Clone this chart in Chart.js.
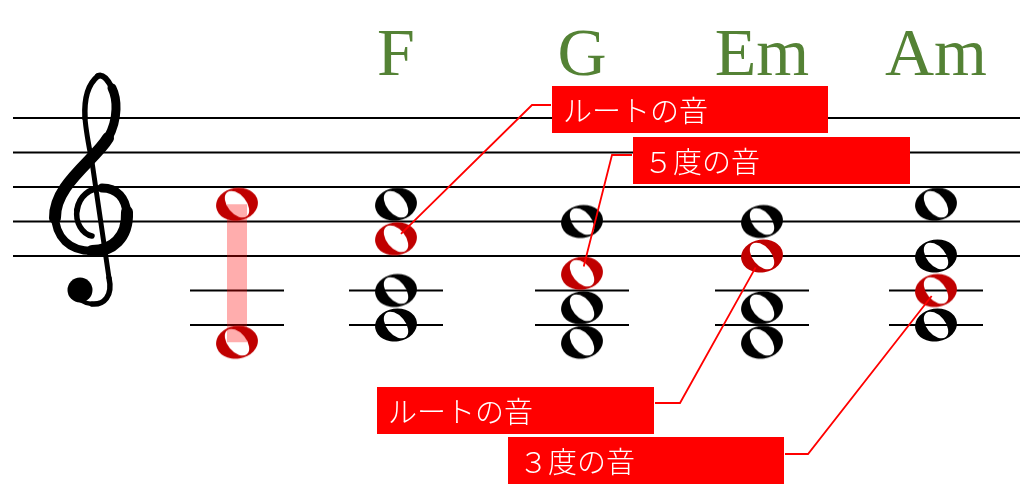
<!DOCTYPE html>
<html><head><meta charset="utf-8">
<script src="https://cdn.jsdelivr.net/npm/chart.js@4"></script>
<style>html,body{margin:0;padding:0;background:#fff;overflow:hidden}#wrap{position:relative;width:1024px;height:489px}</style>
</head><body><div id="wrap"><canvas id="c"></canvas></div>
<script>
// ---- data ----
const chordNames = ['', 'F', 'G', 'Em', 'Am'];
const columnX = [237, 396, 582, 762, 936];
// staff steps: 0 = E4 (bottom line), 1 step = one diatonic degree
const blackNotes = [[], [3, -2, -4], [2, -3, -5], [2, -3, -5], [3, 0, -4]];
const redNotes = [[3, -5], [1], [-1], [0], [-2]];
const staffLineSteps = [0, 2, 4, 6, 8];
const ledgerSteps = [-2, -4];
const rangeBarSteps = [3, -5];
const calloutLabels = ['ルートの音', '５度の音', 'ルートの音', '３度の音'];
const calloutTargets = [[1, 1], [2, -1], [3, 0], [4, -2]]; // [column, step]

// ---- layout / style ----
const PX_PER_STEP = 17.25, BASE_Y = 256, H = 489;
const STAFF_X0 = 13, STAFF_X1 = 1020, LEDGER_HALF = 47;
const boxLayout = [
  {x:552, y:86,  w:276, h:47, joint:[551,105], elbow:[532,105], endOff:7},
  {x:633, y:137, w:277, h:47, joint:[632,155], elbow:[612,155], endOff:7},
  {x:377, y:387, w:277, h:47, joint:[655,403], elbow:[680,403], endOff:13},
  {x:508, y:437, w:276, h:47, joint:[785,454], elbow:[808,454], endOff:7}
];

function makeNote(color){
  const c = document.createElement('canvas'); c.width = 48; c.height = 38;
  const g = c.getContext('2d');
  g.fillStyle = color;
  g.beginPath(); g.ellipse(24, 19, 21, 16.5, -0.15, 0, Math.PI*2); g.fill();
  g.globalCompositeOperation = 'destination-out';
  g.beginPath(); g.ellipse(24, 19, 15.5, 9.3, 0.88, 0, Math.PI*2); g.fill();
  return c;
}
const blackNoteImg = makeNote('#000000');
const redNoteImg = makeNote('#c00000');

function seg(ctx, w, pts){
  ctx.lineWidth = w; ctx.beginPath(); ctx.moveTo(pts[0], pts[1]);
  for (let i = 2; i < pts.length; i += 6) ctx.bezierCurveTo(pts[i],pts[i+1],pts[i+2],pts[i+3],pts[i+4],pts[i+5]);
  ctx.stroke();
}
function drawClef(ctx){
  ctx.save();
  ctx.strokeStyle = '#000'; ctx.fillStyle = '#000'; ctx.lineCap = 'round'; ctx.lineJoin = 'round';
  seg(ctx, 5.5, [92,236, 82,234, 75,222, 77,210]);
  seg(ctx, 6, [77,210, 79,196, 90,188, 102,188]);
  seg(ctx, 9, [102,188, 117,188, 126,198, 127,214]);
  seg(ctx, 12, [127,212, 128,238, 112,251, 92,251]);
  seg(ctx, 8, [92,251, 70,251, 55,238, 55,214]);
  seg(ctx, 12, [55,218, 54,185, 95,160, 108,138]);
  seg(ctx, 9, [108,138, 119,118, 117,98, 112,88]);
  seg(ctx, 6, [112,88, 108,80, 103,74, 98,76]);
  seg(ctx, 5.5, [98,76, 88,84, 84,100, 85,118]);
  seg(ctx, 5, [85,118, 86,132, 88,142, 92,162]);
  ctx.lineWidth = 5; ctx.beginPath(); ctx.moveTo(92,162); ctx.lineTo(109,278); ctx.stroke();
  seg(ctx, 5.5, [109,278, 113,296, 104,305, 92,304]);
  seg(ctx, 4.5, [92,304, 84,303, 77,299, 74,293]);
  ctx.beginPath(); ctx.arc(80, 290, 12.5, 0, Math.PI*2); ctx.fill();
  ctx.restore();
}

const overlay = {
  id: 'overlay',
  afterDatasetsDraw(chart){
    const {ctx, scales:{x, y}} = chart;
    ctx.save();
    ctx.font = '68px "Liberation Serif"'; ctx.fillStyle = '#548235';
    ctx.textAlign = 'center'; ctx.textBaseline = 'alphabetic';
    chordNames.forEach((n, i) => { if (n) ctx.fillText(n, x.getPixelForValue(columnX[i]), 75); });
    drawClef(ctx);
    calloutLabels.forEach((lab, i) => {
      const b = boxLayout[i], [col, step] = calloutTargets[i];
      const nx = x.getPixelForValue(columnX[col]), ny = y.getPixelForValue(step);
      const dx = b.elbow[0]-nx, dy = b.elbow[1]-ny, d = Math.hypot(dx, dy);
      ctx.strokeStyle = '#ff0000'; ctx.lineWidth = 1.8;
      ctx.beginPath(); ctx.moveTo(nx+dx/d*b.endOff, ny+dy/d*b.endOff);
      ctx.lineTo(b.elbow[0], b.elbow[1]); ctx.lineTo(b.joint[0], b.joint[1]); ctx.stroke();
      ctx.fillStyle = '#ff0000'; ctx.fillRect(b.x, b.y, b.w, b.h);
      ctx.fillStyle = '#ffffff'; ctx.font = '300 29px "Noto Sans CJK JP"';
      ctx.textAlign = 'left'; ctx.textBaseline = 'middle';
      ctx.fillText(lab, b.x+11, b.y+b.h/2+1);
    });
    ctx.restore();
  }
};

const pts = arr => arr.flatMap((steps, i) => steps.map(s => ({x: columnX[i], y: s})));
const ledgerData = [];
columnX.forEach(cx => ledgerSteps.forEach(s => {
  ledgerData.push({x: cx-LEDGER_HALF, y: s}, {x: cx+LEDGER_HALF, y: s}, {x: cx, y: null});
}));
const lineDs = (data, color, width, order) => ({type:'line', data, borderColor:color, borderWidth:width,
  pointRadius:0, showLine:true, fill:false, order, borderCapStyle:'butt', spanGaps:false, clip:false});

const datasets = [
  {type:'scatter', data: pts(redNotes), pointStyle: redNoteImg, pointRadius: 20, order: 0, clip:false},
  {type:'scatter', data: pts(blackNotes), pointStyle: blackNoteImg, pointRadius: 20, order: 0, clip:false},
  lineDs([{x: columnX[0], y: rangeBarSteps[0]}, {x: columnX[0], y: rangeBarSteps[1]}], 'rgba(255,0,0,0.32)', 20, 1),
  lineDs(ledgerData, '#000', 2, 2),
  ...staffLineSteps.map(s => lineDs([{x: STAFF_X0, y: s}, {x: STAFF_X1, y: s}], '#000', 2, 2))
];

new Chart(document.getElementById('c'), {
  type: 'scatter',
  data: { datasets },
  options: {
    responsive: true, maintainAspectRatio: false, animation: false, events: [],
    layout: { padding: 0, autoPadding: false },
    plugins: { legend: {display:false}, tooltip: {enabled:false} },
    scales: {
      x: { type:'linear', min: 0, max: 1024, display: false },
      y: { type:'linear', min: -(H-BASE_Y)/PX_PER_STEP, max: BASE_Y/PX_PER_STEP, display: false }
    }
  },
  plugins: [overlay]
});
</script>
</body></html>
